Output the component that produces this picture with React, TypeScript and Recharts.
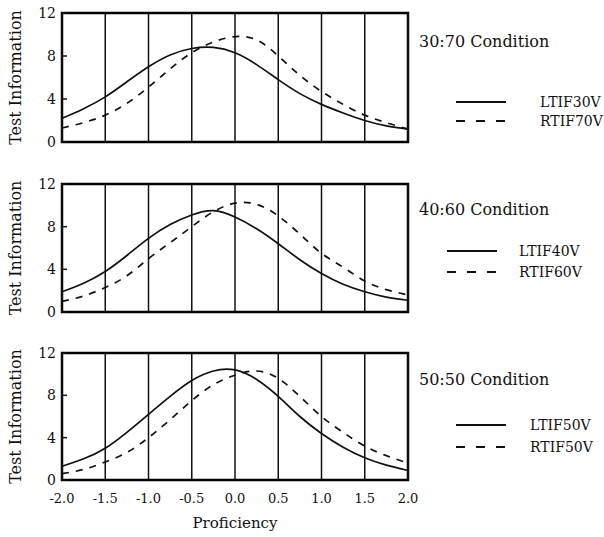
import React from "react";
import {
  LineChart,
  Line,
  XAxis,
  YAxis,
  ReferenceLine,
  ReferenceArea,
} from "recharts";

// proficiency grid the curves were read at
const proficiency = [
  -2, -1.75, -1.5, -1.25, -1, -0.75, -0.5, -0.25, 0, 0.25, 0.5, 0.75, 1, 1.25,
  1.5, 1.75, 2,
];

// 30:70 condition
const ltif30v = [2.2, 3.1, 4.2, 5.6, 7.0, 8.1, 8.7, 8.8, 8.3, 7.2, 5.8, 4.5, 3.5, 2.7, 2.0, 1.5, 1.2];
const rtif70v = [1.3, 1.8, 2.5, 3.6, 5.1, 6.8, 8.3, 9.3, 9.8, 9.5, 8.0, 6.2, 4.7, 3.5, 2.5, 1.8, 1.2];

// 40:60 condition
const ltif40v = [1.9, 2.7, 3.8, 5.3, 6.9, 8.2, 9.1, 9.5, 8.9, 7.8, 6.4, 4.9, 3.6, 2.6, 1.9, 1.4, 1.1];
const rtif60v = [1.0, 1.5, 2.3, 3.4, 5.0, 6.5, 8.0, 9.4, 10.2, 10.1, 9.0, 7.3, 5.5, 4.2, 2.9, 2.1, 1.6];

// 50:50 condition
const ltif50v = [1.3, 2.0, 3.0, 4.5, 6.2, 7.9, 9.4, 10.3, 10.4, 9.5, 7.9, 6.0, 4.4, 3.1, 2.1, 1.4, 0.9];
const rtif50v = [0.6, 1.0, 1.7, 2.6, 4.0, 5.7, 7.5, 9.0, 9.9, 10.3, 9.6, 7.9, 6.0, 4.5, 3.2, 2.3, 1.6];

const conditions = ["30:70 Condition", "40:60 Condition", "50:50 Condition"];
const solidNames = ["LTIF30V", "LTIF40V", "LTIF50V"];
const dashedNames = ["RTIF70V", "RTIF60V", "RTIF50V"];
const xTicks = [-2, -1.5, -1, -0.5, 0, 0.5, 1, 1.5, 2];
const yTicks = [0, 4, 8, 12];

const FONT = "'DejaVu Serif', 'Liberation Serif', serif";
const INK = "#111";

const toRows = (solid: number[], dashed: number[]) =>
  proficiency.map((x, i) => ({ x, solid: solid[i], dashed: dashed[i] }));

const Panel = ({ top, plotH, solid, dashed, idx, showX, legend }: any) => {
  const data = toRows(solid, dashed);
  const xH = showX ? 50 : 0;
  return (
    <>
      <div style={{ position: "absolute", left: 0, top: top }}>
        <LineChart
          width={420}
          height={plotH + xH + 20}
          data={data}
          margin={{ top: 10, right: 10, left: 32, bottom: 10 }}
        >
          <XAxis
            type="number"
            dataKey="x"
            domain={[-2, 2]}
            ticks={xTicks}
            interval={0}
            height={xH}
            hide={!showX}
            axisLine={false}
            tickLine={false}
            tick={{ fontSize: 13, fill: INK, fontFamily: FONT }}
            tickMargin={8}
            tickFormatter={(v: number) => v.toFixed(1)}
            label={
              showX
                ? {
                    value: "Proficiency",
                    position: "insideBottom",
                    offset: 2,
                    style: { fontSize: 15, fill: INK, fontFamily: FONT },
                  }
                : undefined
            }
          />
          <YAxis
            type="number"
            domain={[0, 12]}
            ticks={yTicks}
            interval={0}
            width={30}
            axisLine={false}
            tickSize={-5}
            tickMargin={11}
            tickLine={{ stroke: INK, strokeWidth: 1.5 }}
            tick={{ fontSize: 14, fill: INK, fontFamily: FONT }}
            label={{
              value: "Test Information",
              angle: -90,
              position: "insideLeft",
              offset: -17,
              style: { textAnchor: "middle", fontSize: 16, fill: INK, fontFamily: FONT },
            }}
          />
          <YAxis
            yAxisId="r"
            orientation="right"
            type="number"
            domain={[0, 12]}
            ticks={yTicks}
            interval={0}
            width={2}
            axisLine={false}
            tickSize={-5}
            tickLine={{ stroke: INK, strokeWidth: 1.5 }}
            tickFormatter={() => ""}
          />
          {xTicks.map((t) => (
            <ReferenceLine key={t} x={t} stroke={INK} strokeWidth={1.5} />
          ))}
          <Line
            type="natural"
            dataKey="solid"
            name={solidNames[idx]}
            stroke={INK}
            strokeWidth={1.7}
            dot={false}
            isAnimationActive={false}
          />
          <Line
            type="natural"
            dataKey="dashed"
            name={dashedNames[idx]}
            stroke={INK}
            strokeWidth={1.7}
            strokeDasharray="7 7"
            dot={false}
            isAnimationActive={false}
          />
          <ReferenceArea
            x1={-2}
            x2={2}
            y1={0}
            y2={12}
            fill="none"
            stroke="#000"
            strokeWidth={2.5}
            ifOverflow="visible"
          />
        </LineChart>
      </div>
      <div
        style={{
          position: "absolute",
          left: 419,
          top: legend.titleY,
          fontFamily: FONT,
          fontSize: 16,
          color: INK,
          whiteSpace: "nowrap",
          lineHeight: "18px",
        }}
      >
        {conditions[idx]}
      </div>
      {[solidNames[idx], dashedNames[idx]].map((name, k) => (
        <div
          key={name}
          style={{
            position: "absolute",
            left: legend.lineX,
            top: k === 0 ? legend.row1 : legend.row2,
            display: "flex",
            alignItems: "center",
            fontFamily: FONT,
            fontSize: 14,
            color: INK,
            whiteSpace: "nowrap",
            lineHeight: "16px",
            height: 16,
          }}
        >
          <svg width={50} height={6} style={{ marginRight: legend.gap }}>
            <line
              x1={0}
              y1={3}
              x2={50}
              y2={3}
              stroke={INK}
              strokeWidth={2}
              strokeDasharray={k === 0 ? undefined : "9 11"}
            />
          </svg>
          {name}
        </div>
      ))}
    </>
  );
};

export default function App() {
  return (
    <div
      style={{
        position: "absolute",
        left: 0,
        top: 0,
        width: 604,
        height: 537,
        background: "#fff",
        overflow: "hidden",
      }}
    >
      <Panel
        top={3}
        plotH={129}
        solid={ltif30v}
        dashed={rtif70v}
        idx={0}
        legend={{ titleY: 33, lineX: 456, row1: 94, row2: 113, gap: 34 }}
      />
      <Panel
        top={174}
        plotH={128}
        solid={ltif40v}
        dashed={rtif60v}
        idx={1}
        legend={{ titleY: 201, lineX: 447, row1: 243, row2: 264, gap: 22 }}
      />
      <Panel
        top={343}
        plotH={127}
        solid={ltif50v}
        dashed={rtif50v}
        idx={2}
        showX
        legend={{ titleY: 371, lineX: 456, row1: 417, row2: 439, gap: 24 }}
      />
    </div>
  );
}
